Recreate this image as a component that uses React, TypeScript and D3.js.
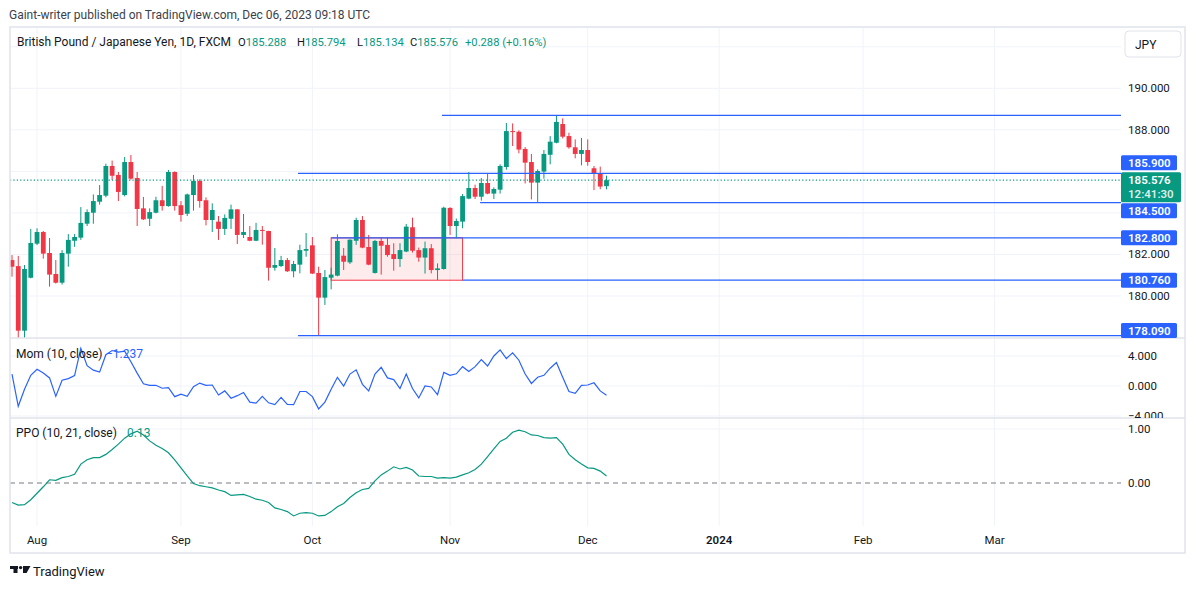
import * as d3 from 'd3'

// daily GBP/JPY bars (FXCM, 1D)
const dates = [
  '2023-07-26', '2023-07-27', '2023-07-28', '2023-07-31',
  '2023-08-01', '2023-08-02', '2023-08-03', '2023-08-04', '2023-08-07', '2023-08-08', '2023-08-09', '2023-08-10',
  '2023-08-11', '2023-08-14', '2023-08-15', '2023-08-16', '2023-08-17', '2023-08-18', '2023-08-21', '2023-08-22',
  '2023-08-23', '2023-08-24', '2023-08-25', '2023-08-28', '2023-08-29', '2023-08-30', '2023-08-31',
  '2023-09-01', '2023-09-04', '2023-09-05', '2023-09-06', '2023-09-07', '2023-09-08', '2023-09-11', '2023-09-12',
  '2023-09-13', '2023-09-14', '2023-09-15', '2023-09-18', '2023-09-19', '2023-09-20', '2023-09-21', '2023-09-22',
  '2023-09-25', '2023-09-26', '2023-09-27', '2023-09-28', '2023-09-29',
  '2023-10-02', '2023-10-03', '2023-10-04', '2023-10-05', '2023-10-06', '2023-10-09', '2023-10-10', '2023-10-11',
  '2023-10-12', '2023-10-13', '2023-10-16', '2023-10-17', '2023-10-18', '2023-10-19', '2023-10-20', '2023-10-23',
  '2023-10-24', '2023-10-25', '2023-10-26', '2023-10-27', '2023-10-30', '2023-10-31',
  '2023-11-01', '2023-11-02', '2023-11-03', '2023-11-06', '2023-11-07', '2023-11-08', '2023-11-09', '2023-11-10',
  '2023-11-13', '2023-11-14', '2023-11-15', '2023-11-16', '2023-11-17', '2023-11-20', '2023-11-21', '2023-11-22',
  '2023-11-23', '2023-11-24', '2023-11-27', '2023-11-28', '2023-11-29', '2023-11-30',
  '2023-12-01', '2023-12-04', '2023-12-05', '2023-12-06',
]

const opens = [
  181.73, 181.44, 178.33, 180.88, 182.52, 183.08, 182.07, 181.06, 180.64, 182.04,
  182.66, 182.81, 183.48, 184.01, 184.54, 184.83, 186.26, 185.83, 184.86, 186.45,
  185.68, 184.22, 183.72, 184.01, 184.61, 184.33, 185.97, 184.37, 183.96, 184.86,
  185.54, 184.61, 183.66, 183.58, 183.23, 183.72, 184.17, 182.94, 182.84, 182.66,
  183.18, 183.13, 181.36, 181.44, 181.73, 181.19, 181.51, 182.18, 182.44, 181.11,
  179.92, 180.88, 180.98, 181.94, 181.62, 182.66, 183.66, 182.36, 181.11, 182.65,
  182.46, 182.02, 181.78, 182.14, 183.31, 182.21, 181.85, 182.30, 181.25, 181.30,
  184.24, 183.37, 183.58, 184.69, 185.20, 184.78, 185.44, 184.93, 185.12, 186.21,
  187.94, 187.91, 187.08, 186.45, 185.46, 185.99, 186.80, 187.38, 188.28, 187.70,
  187.16, 186.84, 187.03, 186.15, 185.91, 185.288,
]
const highs = [
  181.97, 181.93, 181.49, 183.23, 183.26, 183.13, 182.79, 181.73, 182.21, 182.98,
  182.98, 184.28, 184.17, 184.89, 185.34, 186.37, 186.52, 185.97, 186.69, 186.79,
  185.97, 184.77, 184.22, 184.78, 185.30, 186.07, 186.00, 184.57, 184.93, 185.83,
  185.62, 184.75, 184.46, 183.85, 183.93, 184.40, 184.19, 183.95, 183.37, 183.52,
  183.37, 183.14, 182.31, 181.93, 181.83, 181.69, 182.47, 183.03, 182.84, 181.41,
  181.25, 181.36, 182.97, 182.31, 182.73, 183.77, 183.85, 182.94, 182.70, 182.84,
  182.84, 182.54, 182.54, 183.47, 183.77, 182.33, 182.62, 182.50, 181.57, 184.30,
  184.27, 183.73, 184.91, 185.97, 185.36, 185.68, 185.89, 185.23, 186.34, 188.33,
  188.31, 187.98, 187.17, 186.84, 186.10, 187.03, 187.70, 188.70, 188.55, 187.86,
  187.54, 187.61, 187.54, 186.26, 186.23, 185.794,
]
const lows = [
  180.93, 177.93, 177.93, 180.85, 182.45, 181.80, 180.45, 180.60, 180.55, 181.41,
  182.37, 182.70, 183.37, 183.48, 184.40, 184.75, 185.59, 184.57, 184.80, 185.60,
  183.37, 183.66, 183.37, 183.98, 184.11, 184.30, 184.11, 183.58, 183.85, 184.11,
  184.25, 183.40, 183.08, 182.70, 182.94, 183.23, 182.50, 182.79, 182.64, 182.64,
  182.47, 180.74, 181.22, 181.40, 181.16, 180.90, 181.09, 181.89, 181.06, 178.09,
  179.57, 180.32, 180.95, 181.25, 181.54, 182.46, 182.30, 181.48, 181.08, 181.03,
  181.89, 181.22, 181.40, 182.11, 182.09, 181.65, 181.08, 181.09, 180.77, 181.27,
  182.94, 182.78, 183.26, 184.66, 184.67, 184.59, 184.90, 184.67, 184.93, 186.08,
  187.22, 186.87, 185.42, 184.65, 184.50, 185.65, 186.34, 187.35, 187.59, 187.09,
  186.63, 186.29, 186.27, 185.10, 185.14, 185.134,
]
const closes = [
  181.41, 178.33, 181.30, 182.55, 183.08, 182.04, 181.03, 180.64, 182.07, 182.70,
  182.84, 183.52, 184.04, 184.57, 184.86, 186.26, 185.79, 185.01, 186.45, 185.65,
  184.19, 183.69, 184.04, 184.61, 184.33, 185.97, 184.33, 183.90, 184.89, 185.54,
  184.57, 183.66, 184.14, 183.23, 183.76, 184.17, 182.94, 183.08, 182.66, 183.18,
  183.14, 181.36, 181.49, 181.73, 181.19, 181.54, 182.21, 182.26, 181.08, 179.92,
  180.91, 181.03, 182.65, 181.65, 182.71, 183.66, 182.33, 181.51, 182.65, 182.42,
  181.97, 181.78, 182.21, 183.34, 182.18, 181.85, 182.30, 181.25, 181.33, 184.25,
  183.37, 183.61, 184.81, 185.20, 184.78, 185.44, 184.93, 185.15, 186.26, 187.94,
  187.90, 187.05, 186.42, 185.46, 186.02, 186.84, 187.43, 188.38, 187.67, 187.16,
  186.84, 187.03, 186.45, 185.91, 185.27, 185.576,
]

// Mom (10, close)
const momValues = [
  1.59, -2.71, -0.43, 1.42, 2.24, 1.72, 1.08, -1.38, 0.77, 0.99,
  1.38, 5.03, 2.71, 2.11, 1.85, 4.17, 4.73, 4.52, 4.65, 3.23,
  1.72, 0.30, 0.09, 0.09, -0.30, -0.22, -1.42, -1.08, -1.38, -0.09,
  0.39, 0.09, 0.13, -1.20, -0.65, -1.63, -1.29, -0.86, -2.15, -2.28,
  -1.38, -2.24, -2.49, -1.51, -2.45, -2.49, -0.73, -0.73, -1.42, -3.05,
  -2.15, -0.43, 1.16, 0.00, 1.59, 2.15, 0.22, -0.65, 1.59, 2.49,
  1.08, 0.86, -0.34, 1.59, -0.34, -1.59, 0.00, -0.13, -1.16, 1.81,
  1.42, 1.63, 2.58, 1.94, 2.58, 3.53, 2.67, 4.00, 4.82, 3.66,
  4.43, 3.44, 1.59, 0.34, 1.16, 1.42, 2.37, 3.14, 1.16, -0.73,
  -0.99, 0.09, 0.13, 0.43, -0.65, -1.237,
]

// PPO (10, 21, close)
const ppoValues = [
  -0.36, -0.41, -0.40, -0.31, -0.19, -0.07, 0.06, 0.05, 0.10, 0.12,
  0.16, 0.35, 0.43, 0.47, 0.47, 0.53, 0.62, 0.72, 0.83, 0.91,
  0.96, 0.89, 0.78, 0.70, 0.64, 0.56, 0.43, 0.28, 0.13, -0.01,
  -0.05, -0.07, -0.09, -0.13, -0.16, -0.23, -0.22, -0.21, -0.25, -0.30,
  -0.32, -0.36, -0.46, -0.49, -0.53, -0.61, -0.56, -0.55, -0.56, -0.61,
  -0.60, -0.53, -0.44, -0.38, -0.27, -0.18, -0.12, -0.10, 0.04, 0.15,
  0.22, 0.30, 0.26, 0.29, 0.24, 0.13, 0.12, 0.12, 0.09, 0.10,
  0.09, 0.11, 0.15, 0.19, 0.25, 0.35, 0.49, 0.63, 0.77, 0.83,
  0.94, 0.98, 0.95, 0.89, 0.88, 0.84, 0.83, 0.84, 0.72, 0.53,
  0.43, 0.35, 0.28, 0.27, 0.22, 0.13,
]

// horizontal rays drawn on the chart (start is a bar position)
const levelPrices = [188.70, 185.90, 184.50, 182.80, 180.76, 178.09]
const levelStartBars = [68.7, 45.7, 74.8, 51, 72, 45.7]
const levelTagged = [false, true, true, true, true, true]

// consolidation box
const zoneBars = [51, 72]
const zonePrices = [180.76, 182.80]

const lastPrice = 185.576
const countdown = '12:41:30'

const priceTicks = [180, 182, 184, 186, 188, 190, 192]
const momTicks = [4, 0, -4]
const ppoTicks = [1, 0]

const monthLabels = ['Aug', 'Sep', 'Oct', 'Nov', 'Dec', '2024', 'Feb', 'Mar']
const monthStarts = ['2023-08-01', '2023-09-01', '2023-10-01', '2023-11-01', '2023-12-01', '2024-01-01', '2024-02-01', '2024-03-01']

const publishedText = 'Gaint-writer published on TradingView.com, Dec 06, 2023 09:18 UTC'
const symbolText = 'British Pound / Japanese Yen, 1D, FXCM'
const ohlcText = [['O', '185.288'], ['H', '185.794'], ['L', '185.134'], ['C', '185.576']]
const changeText = '+0.288 (+0.16%)'

const UP = '#089981'
const DOWN = '#F23645'
const BLUE = '#2962FF'
const TEXT = '#131722'
const GRID = '#f0f3fa'
const BORDER = '#e0e3eb'
const FONT = 'Roboto, "Noto Sans", sans-serif'

const W = 1195
const H = 589
const left = 10
const plotRight = 1121
const right = 1185
const top = 27
const priceBottom = 338
const momBottom = 418
const ppoBottom = 526
const bottom = 553

const parse = d3.timeParse('%Y-%m-%d')
const weekdaysBefore = (s: string) =>
  d3.timeDay.range(parse(dates[0])!, parse(s)!).filter(d => d.getDay() !== 0 && d.getDay() !== 6).length

const x = d3.scaleLinear().domain([0, dates.length - 1]).range([12, 606.5])
const yPrice = d3.scaleLinear().domain([180, 190]).range([296, 88.3])
const yMom = d3.scaleLinear().domain([0, 4]).range([386, 356])
const yPpo = d3.scaleLinear().domain([0, 1]).range([483, 429])

const fmt3 = (v: number) => (v < 0 ? '\u2212' : '') + Math.abs(v).toFixed(3)

const App = () => {
  // price scale tags, pushed apart like TradingView does
  const curY = yPrice(lastPrice)
  const curTop = curY - 8
  const curBottom = curY + 22
  const tags = levelPrices
    .map((p, i) => ({ p, i }))
    .filter(d => levelTagged[d.i])
    .map(({ p }) => {
      let t = yPrice(p) - 7.5
      if (t < curBottom && t + 15 > curTop) {
        t = yPrice(p) < curY ? curTop - 17 : curBottom + 1
      }
      t = Math.min(Math.max(t, top), priceBottom - 15)
      return { p, t }
    })

  const tickHidden = (y: number) =>
    y < 60 || (y + 6 > curTop && y - 6 < curBottom) || tags.some(g => y + 6 > g.t && y - 6 < g.t + 15)

  const momLine = d3.line<number>().x((_, i) => x(i)).y(d => yMom(d))
  const ppoLine = d3.line<number>().x((_, i) => x(i)).y(d => yPpo(d))

  const monthX = monthStarts.map(s => x(weekdaysBefore(s)))

  return (
    <svg width={W} height={H} style={{ position: 'absolute', left: 0, top: 0, background: '#fff' }} fontFamily={FONT}>
      <defs>
        <clipPath id="clipPrice"><rect x={left} y={top} width={plotRight - left} height={priceBottom - top} /></clipPath>
        <clipPath id="clipMom"><rect x={left} y={priceBottom} width={plotRight - left} height={momBottom - priceBottom} /></clipPath>
        <clipPath id="clipPpo"><rect x={left} y={momBottom} width={plotRight - left} height={ppoBottom - momBottom} /></clipPath>
        <clipPath id="clipMomAxis"><rect x={plotRight} y={priceBottom} width={right - plotRight} height={momBottom - priceBottom} /></clipPath>
      </defs>

      <rect width={W} height={H} fill="#fff" />
      <text x={9} y={19} fontSize={12} fill="#3b3f4a">{publishedText}</text>

      {/* grid */}
      {monthX.map((mx, i) => (
        <line key={'vg' + i} x1={mx} x2={mx} y1={top} y2={ppoBottom} stroke={GRID} />
      ))}
      <g clipPath="url(#clipPrice)">
        {priceTicks.map(t => (
          <line key={'pg' + t} x1={left} x2={plotRight} y1={yPrice(t)} y2={yPrice(t)} stroke={GRID} />
        ))}
      </g>
      {momTicks.map(t => (
        <line key={'mg' + t} x1={left} x2={plotRight} y1={yMom(t)} y2={yMom(t)} stroke={GRID} />
      ))}
      <line x1={left} x2={plotRight} y1={yPpo(1)} y2={yPpo(1)} stroke={GRID} />

      {/* price pane */}
      <g clipPath="url(#clipPrice)">
        <rect
          x={x(zoneBars[0])}
          y={yPrice(zonePrices[1])}
          width={x(zoneBars[1]) - x(zoneBars[0])}
          height={yPrice(zonePrices[0]) - yPrice(zonePrices[1])}
          fill="rgba(242,54,69,0.1)"
          stroke={DOWN}
          strokeWidth={1}
        />
        {opens.map((o, i) => {
          const c = closes[i]
          const col = c >= o ? UP : DOWN
          const cx = x(i)
          const bt = yPrice(Math.max(o, c))
          const bb = yPrice(Math.min(o, c))
          return (
            <g key={'c' + i}>
              <line x1={cx} x2={cx} y1={yPrice(highs[i])} y2={yPrice(lows[i])} stroke={col} strokeWidth={1} />
              <rect x={cx - 2.4} y={bt} width={4.8} height={Math.max(1, bb - bt)} fill={col} />
            </g>
          )
        })}
        {levelPrices.map((p, i) => (
          <line key={'lv' + i} x1={x(levelStartBars[i])} x2={plotRight} y1={yPrice(p)} y2={yPrice(p)} stroke={BLUE} strokeWidth={1.3} />
        ))}
        <line x1={left} x2={plotRight} y1={curY} y2={curY} stroke={UP} strokeDasharray="1.2 2.2" strokeWidth={1.2} />
      </g>

      {/* momentum pane */}
      <g clipPath="url(#clipMom)">
        <path d={momLine(momValues) || ''} fill="none" stroke={BLUE} strokeWidth={1.2} />
      </g>

      {/* PPO pane */}
      <g clipPath="url(#clipPpo)">
        <line x1={left} x2={plotRight} y1={yPpo(0)} y2={yPpo(0)} stroke="#787b86" strokeDasharray="5 4" />
        <path d={ppoLine(ppoValues) || ''} fill="none" stroke={UP} strokeWidth={1.2} />
      </g>

      {/* pane separators and frame */}
      <line x1={left} x2={right} y1={priceBottom} y2={priceBottom} stroke={BORDER} strokeWidth={1.5} />
      <line x1={left} x2={right} y1={momBottom} y2={momBottom} stroke={BORDER} strokeWidth={1.5} />
      <rect x={left} y={top} width={right - left} height={bottom - top} fill="none" stroke={BORDER} strokeWidth={1.5} />

      {/* legends */}
      <text x={17} y={46} fontSize={12} fill={TEXT}>{symbolText}</text>
      {ohlcText.map(([k, v], i) => (
        <text key={'ohlc' + k} x={[238, 297, 357, 410][i]} y={46} fontSize={11.2}>
          <tspan fill={TEXT}>{k}</tspan>
          <tspan fill={UP}>{v}</tspan>
        </text>
      ))}
      <text x={465} y={46} fontSize={11.2} fill={UP}>{changeText}</text>

      <text x={16} y={358} fontSize={12} fill={TEXT}>Mom (10, close)</text>
      <text x={106} y={358} fontSize={12} fill={BLUE}>{fmt3(momValues[momValues.length - 1])}</text>
      <text x={16} y={437} fontSize={12} fill={TEXT}>PPO (10, 21, close)</text>
      <text x={127} y={437} fontSize={12} fill={UP}>{ppoValues[ppoValues.length - 1].toFixed(2)}</text>

      {/* price axis */}
      <rect x={1125} y={31} width={56} height={26} rx={4} fill="#fff" stroke={BORDER} />
      <text x={1135} y={49} fontSize={12} fill={TEXT}>JPY</text>
      {priceTicks.filter(t => !tickHidden(yPrice(t)) && yPrice(t) < priceBottom - 6).map(t => (
        <text key={'pt' + t} x={1128} y={yPrice(t) + 4} fontSize={11.5} fill={TEXT}>{t.toFixed(3)}</text>
      ))}
      {tags.map(g => (
        <g key={'tag' + g.p}>
          <rect x={plotRight} y={g.t} width={56} height={15} rx={1.5} fill={BLUE} />
          <text x={1128} y={g.t + 11.5} fontSize={11.5} fontWeight={600} fill="#fff">{g.p.toFixed(3)}</text>
        </g>
      ))}
      <rect x={plotRight} y={curTop} width={60} height={curBottom - curTop} rx={1.5} fill={UP} />
      <text x={1128} y={curY + 4} fontSize={11.5} fontWeight={600} fill="#fff">{lastPrice.toFixed(3)}</text>
      <text x={1128} y={curY + 18} fontSize={11.5} fontWeight={600} fill="#fff" fillOpacity={0.85}>{countdown}</text>

      <g clipPath="url(#clipMomAxis)">
        {momTicks.map(t => (
          <text key={'mt' + t} x={1128} y={yMom(t) + 4} fontSize={11.5} fill={TEXT}>{fmt3(t)}</text>
        ))}
      </g>
      {ppoTicks.map(t => (
        <text key={'ppt' + t} x={1128} y={yPpo(t) + 4} fontSize={11.5} fill={TEXT}>{t.toFixed(2)}</text>
      ))}

      {/* time axis */}
      {monthLabels.map((m, i) => (
        <text key={'m' + m} x={monthX[i]} y={544} fontSize={11.5} textAnchor="middle" fill={TEXT} fontWeight={m === '2024' ? 600 : 400}>{m}</text>
      ))}

      {/* TradingView logo */}
      <g fill={TEXT}>
        <rect x={10} y={566} width={8} height={3} />
        <rect x={13.5} y={566} width={4} height={7} />
        <circle cx={20.6} cy={567.6} r={1.7} />
        <polygon points="23,566 30.5,566 26.6,573 23,573" />
      </g>
      <text x={33} y={576} fontSize={13} fill={TEXT}>TradingView</text>
    </svg>
  )
}

export default App
